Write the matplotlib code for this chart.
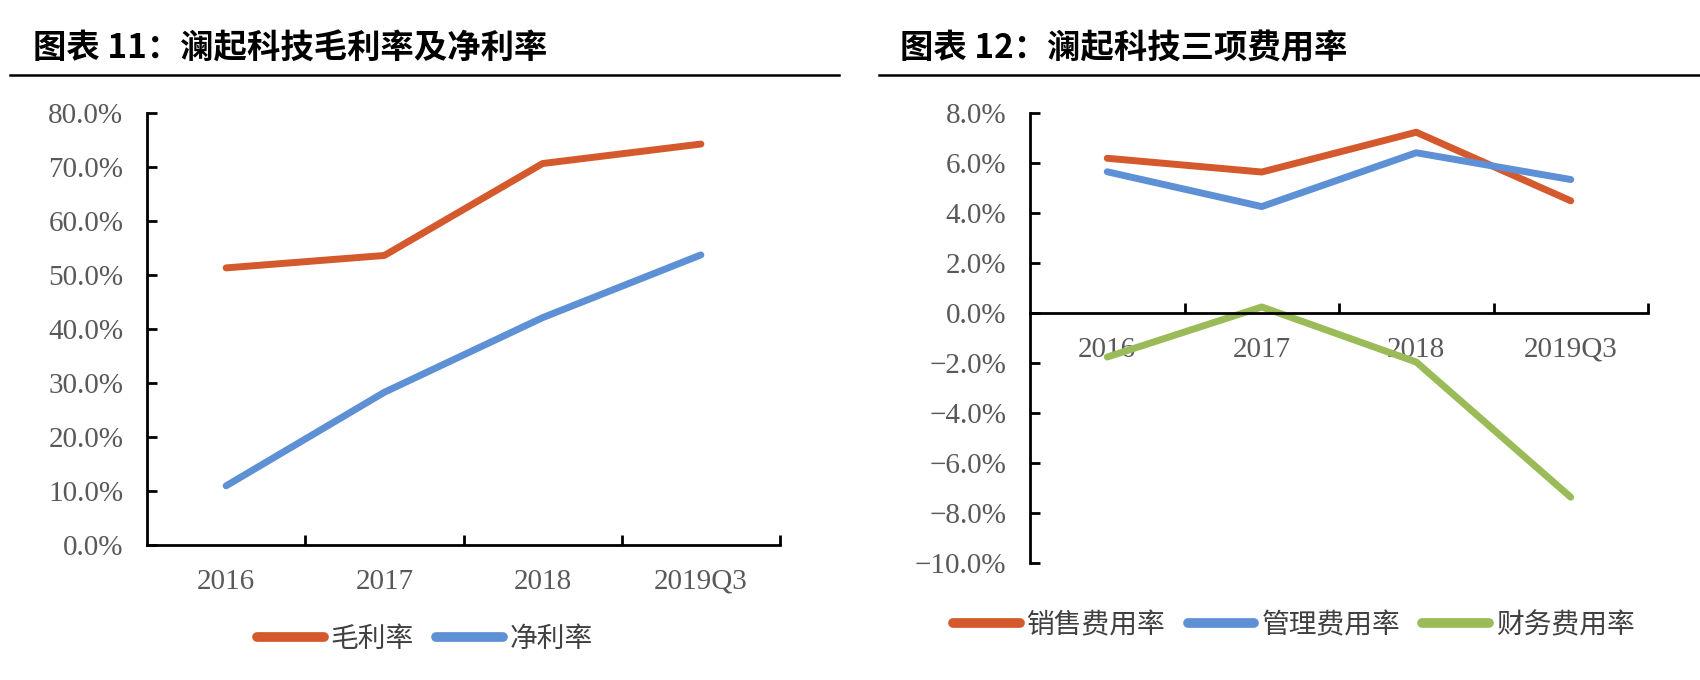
import matplotlib
matplotlib.use("Agg")
import matplotlib.pyplot as plt
from matplotlib.lines import Line2D
from matplotlib.ticker import FixedLocator, FixedFormatter, NullFormatter

plt.rcParams['font.family'] = ['Noto Sans CJK SC', 'DejaVu Sans']

# ---------------- data ----------------
categories = ["2016", "2017", "2018", "2019Q3"]

left_title = "图表 11：澜起科技毛利率及净利率"
gross_margin_name = "毛利率"
gross_margin = [51.3, 53.6, 70.6, 74.2]
net_margin_name = "净利率"
net_margin = [11.0, 28.3, 42.1, 53.7]
left_yticks = [0, 10, 20, 30, 40, 50, 60, 70, 80]
left_yticklabels = ["0.0%", "10.0%", "20.0%", "30.0%", "40.0%", "50.0%", "60.0%", "70.0%", "80.0%"]

right_title = "图表 12：澜起科技三项费用率"
sales_name = "销售费用率"
sales_rate = [6.18, 5.63, 7.22, 4.48]
admin_name = "管理费用率"
admin_rate = [5.64, 4.25, 6.40, 5.33]
fin_name = "财务费用率"
fin_rate = [-1.76, 0.24, -1.96, -7.36]
right_yticks = [-10, -8, -6, -4, -2, 0, 2, 4, 6, 8]
right_yticklabels = ["\u221210.0%", "\u22128.0%", "\u22126.0%", "\u22124.0%", "\u22122.0%",
                     "0.0%", "2.0%", "4.0%", "6.0%", "8.0%"]

# ---------------- style ----------------
RED = "#D4592C"
BLUE = "#5E90D6"
GREEN = "#9BBB59"
GRAY = "#595959"
LW = 5.0
TICK_FAMILY = "Liberation Serif"
TICK_SIZE = 21

fig = plt.figure(figsize=(17, 6.8), dpi=100)


def style_axes(ax, yticks, yticklabels, ylim, zero_axis=False):
    n = len(categories)
    x = list(range(n))
    ax.set_xlim(-0.5, n - 0.5)
    ax.set_ylim(*ylim)
    for s in ["top", "right"]:
        ax.spines[s].set_visible(False)
    for s in ["left", "bottom"]:
        ax.spines[s].set_linewidth(2.0)
        ax.spines[s].set_color("black")
    if zero_axis:
        ax.spines["bottom"].set_position(("data", 0))
    # y ticks
    ax.yaxis.set_major_locator(FixedLocator(yticks))
    ax.yaxis.set_major_formatter(FixedFormatter(yticklabels))
    ax.tick_params(axis="y", direction="in", length=7, width=2.0, pad=17,
                   labelsize=TICK_SIZE, labelcolor=GRAY, labelfontfamily=TICK_FAMILY)
    # x: ticks at boundaries, labels at centres
    bounds = [i - 0.5 for i in range(n + 1)]
    ax.xaxis.set_major_locator(FixedLocator(bounds[1:]))
    ax.xaxis.set_major_formatter(NullFormatter())
    ax.xaxis.set_minor_locator(FixedLocator(x))
    ax.xaxis.set_minor_formatter(FixedFormatter(categories))
    ax.tick_params(axis="x", which="major", direction="in", length=7, width=2.0)
    ax.tick_params(axis="x", which="minor", length=0, pad=17,
                   labelsize=TICK_SIZE, labelcolor=GRAY, labelfontfamily=TICK_FAMILY)
    return x


# ---------------- left chart ----------------
axL = fig.add_axes([147 / 1700, 1 - 545.3 / 680, (780 - 147) / 1700, (545.3 - 112.7) / 680])
xL = style_axes(axL, left_yticks, left_yticklabels, (0, 80))
axL.plot(xL, gross_margin, color=RED, lw=LW, solid_capstyle="round", solid_joinstyle="round",
         label=gross_margin_name, clip_on=False)
axL.plot(xL, net_margin, color=BLUE, lw=LW, solid_capstyle="round", solid_joinstyle="round",
         label=net_margin_name, clip_on=False)

# ---------------- right chart ----------------
axR = fig.add_axes([1030 / 1700, 1 - 563.3 / 680, (1648 - 1030) / 1700, (563.3 - 112.7) / 680])
xR = style_axes(axR, right_yticks, right_yticklabels, (-10, 8), zero_axis=True)
axR.plot(xR, sales_rate, color=RED, lw=LW, solid_capstyle="round", solid_joinstyle="round",
         label=sales_name, clip_on=False)
axR.plot(xR, admin_rate, color=BLUE, lw=LW, solid_capstyle="round", solid_joinstyle="round",
         label=admin_name, clip_on=False)
axR.plot(xR, fin_rate, color=GREEN, lw=LW, solid_capstyle="round", solid_joinstyle="round",
         label=fin_name, clip_on=False)

# ---------------- legends ----------------
leg_kw = dict(frameon=False, ncol=4, handlelength=2.4, handletextpad=0.25, columnspacing=0.8,
              prop=dict(family=["Noto Sans CJK SC", "DejaVu Sans"], size=20), loc="center")
for ax, anchor in ((axL, (425 / 1700, 1 - 639 / 680)), (axR, (1294 / 1700, 1 - 625 / 680))):
    h, l = ax.get_legend_handles_labels()
    h = [Line2D([], [], color=hh.get_color(), lw=7, solid_capstyle="round") for hh in h]
    leg = fig.legend(h, l, bbox_to_anchor=anchor, bbox_transform=fig.transFigure, **leg_kw)
    for t in leg.get_texts():
        t.set_color("#404040")

# ---------------- titles & rules ----------------
fig.text(33 / 1700, 1 - 49 / 680, left_title, fontsize=24, fontweight="bold", va="center", ha="left",
         color="black")
fig.text(900 / 1700, 1 - 49 / 680, right_title, fontsize=24, fontweight="bold", va="center", ha="left",
         color="black")
fig.add_artist(Line2D([10 / 1700, 839 / 1700], [1 - 75 / 680] * 2, transform=fig.transFigure,
                      color="black", lw=1.8))
fig.add_artist(Line2D([879 / 1700, 1.0], [1 - 75 / 680] * 2, transform=fig.transFigure,
                      color="black", lw=1.8))

fig.savefig("out.png", dpi=100, facecolor="white")
